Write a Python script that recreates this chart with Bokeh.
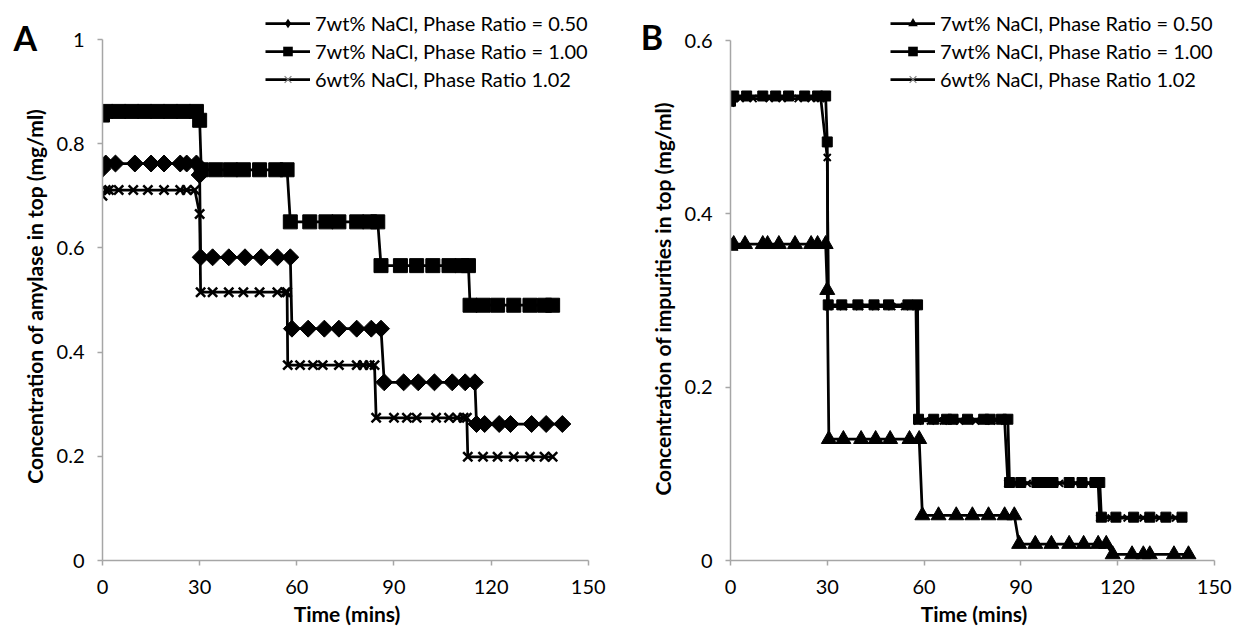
from bokeh.plotting import figure
from bokeh.models import (Range1d, Legend, LegendItem, Label, FixedTicker,
                          NumeralTickFormatter)
from bokeh.layouts import row
from bokeh.embed import file_html
from bokeh.resources import INLINE
import math

# ---------------- data ----------------
time_ticks = [0, 30, 60, 90, 120, 150]
a_ticks = [0, 0.2, 0.4, 0.6, 0.8, 1.0]
b_ticks = [0, 0.2, 0.4, 0.6]

series_labels = ["7wt% NaCl, Phase Ratio = 0.50",
                 "7wt% NaCl, Phase Ratio = 1.00",
                 "6wt% NaCl, Phase Ratio 1.02"]

# Panel A: amylase in top (mg/ml)
a_t_050 = [0, 1, 4, 10, 15, 19, 24, 26, 29, 30,
           30.3, 34, 39, 44, 49, 54, 58,
           58.5, 63.5, 68.5, 73, 78.5, 83, 86,
           87, 93, 97.5, 102.5, 108, 112, 115,
           115.5, 118, 122.5, 126, 132.5, 137, 142]
a_c_050 = [0.752, 0.762, 0.762, 0.762, 0.762, 0.762, 0.762, 0.762, 0.762, 0.740,
           0.582, 0.582, 0.582, 0.582, 0.582, 0.582, 0.582,
           0.445, 0.445, 0.445, 0.445, 0.445, 0.445, 0.445,
           0.342, 0.342, 0.342, 0.342, 0.342, 0.342, 0.342,
           0.262, 0.262, 0.262, 0.262, 0.262, 0.262, 0.262]

a_t_100 = [0, 1, 5, 9, 13, 17, 21, 25, 29, 30,
           30.5, 35, 39.5, 43.5, 48.5, 53.5, 57,
           58, 64, 69, 73, 78.5, 82.5, 85,
           86, 92, 97, 102, 107, 111, 113,
           113.5, 117.5, 122, 127, 132, 136.5, 139]
a_c_100 = [0.855, 0.862, 0.862, 0.862, 0.862, 0.862, 0.862, 0.862, 0.862, 0.845,
           0.750, 0.750, 0.750, 0.750, 0.750, 0.750, 0.750,
           0.650, 0.650, 0.650, 0.650, 0.650, 0.650, 0.650,
           0.566, 0.566, 0.566, 0.566, 0.566, 0.566, 0.566,
           0.490, 0.490, 0.490, 0.490, 0.490, 0.490, 0.490]

a_t_102 = [0, 1, 2, 5, 9.5, 14, 19, 24, 26, 28.5, 30,
           30.3, 34, 39, 43.5, 48.5, 54, 56.5, 57,
           57.2, 61, 65, 68, 73, 78.5, 80.5, 82.5, 84,
           84.5, 90, 94, 97, 103, 107, 109.5, 111.5, 112.5,
           112.8, 117.5, 122, 127, 132, 136.5, 139]
a_c_102 = [0.700, 0.711, 0.711, 0.711, 0.711, 0.711, 0.711, 0.711, 0.711, 0.711, 0.665,
           0.515, 0.515, 0.515, 0.515, 0.515, 0.515, 0.515, 0.515,
           0.375, 0.375, 0.375, 0.375, 0.375, 0.375, 0.375, 0.375, 0.375,
           0.274, 0.274, 0.274, 0.274, 0.274, 0.274, 0.274, 0.274, 0.274,
           0.199, 0.199, 0.199, 0.199, 0.199, 0.199, 0.199]

# Panel B: impurities in top (mg/ml)
b_t_050 = [0, 1, 4.5, 10, 11.5, 15, 20, 25, 27, 29.5, 30,
           30.5, 35, 40.5, 45, 49.5, 55.5, 58.5,
           59.5, 64.5, 70, 75, 80, 85, 88,
           89.5, 94.5, 99.5, 105, 109.5, 114, 116.5,
           118.5, 124.5, 128, 130, 137.5, 142]
b_c_050 = [0.363, 0.365, 0.365, 0.365, 0.365, 0.365, 0.365, 0.365, 0.365, 0.365, 0.312,
           0.140, 0.140, 0.140, 0.140, 0.140, 0.140, 0.140,
           0.052, 0.052, 0.052, 0.052, 0.052, 0.052, 0.052,
           0.019, 0.019, 0.019, 0.019, 0.019, 0.019, 0.019,
           0.007, 0.007, 0.007, 0.007, 0.007, 0.007]

b_t_100 = [0, 1, 5, 10, 14, 18, 23, 27, 29.5, 30,
           30.3, 34.5, 39.5, 44.5, 49, 55, 58,
           58.3, 63, 67, 69, 73.5, 78.5, 80.5, 84, 86,
           86.5, 90, 95, 97.5, 100, 105, 109, 113, 114.5,
           115, 119.5, 125, 130, 135, 140]
b_c_100 = [0.530, 0.536, 0.536, 0.536, 0.536, 0.536, 0.536, 0.536, 0.536, 0.483,
           0.295, 0.295, 0.295, 0.295, 0.295, 0.295, 0.295,
           0.163, 0.163, 0.163, 0.163, 0.163, 0.163, 0.163, 0.163, 0.163,
           0.090, 0.090, 0.090, 0.090, 0.090, 0.090, 0.090, 0.090, 0.090,
           0.050, 0.050, 0.050, 0.050, 0.050, 0.050]

b_t_102 = [0, 1, 3, 7, 12, 16, 21, 25, 28, 30,
           30.3, 35, 40, 45, 50, 54, 57.5,
           58, 62, 66, 71, 76, 81, 85,
           86, 88, 92, 97, 102, 107, 111, 114,
           114.5, 118, 123, 128, 133, 138]
b_c_102 = [0.528, 0.533, 0.533, 0.533, 0.533, 0.533, 0.533, 0.533, 0.533, 0.465,
           0.293, 0.293, 0.293, 0.293, 0.293, 0.293, 0.293,
           0.161, 0.161, 0.161, 0.161, 0.161, 0.161, 0.161,
           0.089, 0.089, 0.089, 0.089, 0.089, 0.089, 0.089, 0.089,
           0.049, 0.049, 0.049, 0.049, 0.049, 0.049]

# ---------------- style ----------------
FONT = "Lato"
GRAY = "#a6a6a6"
LW = 2.75
# two em spaces keep the rotated label centred on the 0..max axis span
PAD = "\u2003\u2003"


def style_axes(p, yticks, ylabel):
    p.grid.visible = False
    p.outline_line_color = None
    xa = p.xaxis[0]
    ya = p.yaxis[0]
    xa.ticker = FixedTicker(ticks=time_ticks)
    ya.ticker = FixedTicker(ticks=yticks)
    ya.formatter = NumeralTickFormatter(format="0.[0]")
    xa.bounds = (0, 150)
    ya.bounds = (0, yticks[-1])
    for ax in (xa, ya):
        ax.axis_line_color = GRAY
        ax.axis_line_width = 1.5
        ax.major_tick_line_color = GRAY
        ax.major_tick_line_width = 1.5
        ax.major_tick_out = 5
        ax.major_tick_in = 0
        ax.minor_tick_line_color = None
        ax.major_label_text_font = FONT
        ax.major_label_text_font_size = "20px"
        ax.major_label_text_color = "black"
        ax.axis_label_text_font = FONT
        ax.axis_label_text_font_style = "bold"
        ax.axis_label_text_font_size = "21px"
        ax.axis_label_text_color = "black"
    xa.major_label_standoff = 14
    ya.major_label_standoff = 13
    xa.axis_label = "Time (mins)"
    xa.axis_label_standoff = 4
    ya.axis_label = ylabel + PAD
    ya.axis_label_standoff = 7


def add_series(p, t, c, marker, size, lw_marker=1.0, angle=0.0):
    lr = p.line(t, c, line_color="black", line_width=LW, line_join="round")
    if marker == "x":
        p.scatter(t, c, marker=marker, size=size, line_color="black",
                  line_width=lw_marker)
    else:
        p.scatter(t, c, marker=marker, size=size, fill_color="black",
                  line_color="black", line_width=lw_marker, angle=angle)
    return lr


def legend_proxy(p, t, c, marker, color="black", lw=1.0):
    # zero-size copy of a series point, used only for the legend glyph
    if marker == "x":
        return p.scatter(t[:1], c[:1], marker="x", size=0,
                         line_color=color, line_width=lw)
    return p.scatter(t[:1], c[:1], marker=marker, size=0,
                     fill_color=color, line_color=None)


def add_legend(p, items, x, y):
    leg = Legend(items=items, location=(x, y), padding=0, margin=0,
                 border_line_color=None, background_fill_alpha=0,
                 glyph_width=45, glyph_height=24, label_height=24,
                 spacing=4, label_standoff=5,
                 label_text_font=FONT, label_text_font_size="20px",
                 label_text_color="black")
    p.add_layout(leg)


def add_letter(p, letter, x, y, side):
    p.add_layout(Label(x=x, y=y, text=letter,
                       text_font=FONT, text_font_style="bold",
                       text_font_size="34px", text_baseline="middle",
                       text_align="left", text_color="black"), side)


# ---------------- Panel A ----------------
pA = figure(frame_width=489, frame_height=560,
            x_range=Range1d(0, 151), y_range=Range1d(0, 1.0749),
            min_border_left=102, min_border_right=29, min_border_top=0,
            min_border_bottom=68, title=None,
            output_backend="svg", toolbar_location=None)
style_axes(pA, a_ticks, "Concentration of amylase in top (mg/ml)")

l1 = add_series(pA, a_t_050, a_c_050, "square", 12, angle=math.pi / 4)
l2 = add_series(pA, a_t_100, a_c_100, "square", 14)
l3 = add_series(pA, a_t_102, a_c_102, "x", 13, lw_marker=2.5)
m1 = legend_proxy(pA, a_t_050, a_c_050, "diamond")
m2 = legend_proxy(pA, a_t_100, a_c_100, "square")
m3 = legend_proxy(pA, a_t_102, a_c_102, "x", color="#808080", lw=1.2)
add_legend(pA, [LegendItem(label=series_labels[0], renderers=[l1, m1]),
                LegendItem(label=series_labels[1], renderers=[l2, m2]),
                LegendItem(label=series_labels[2], renderers=[l3, m3])],
           163, 469)
add_letter(pA, "A", -27.5, 1.004, "right")

# ---------------- Panel B ----------------
pB = figure(frame_width=487, frame_height=560,
            x_range=Range1d(0, 151), y_range=Range1d(0, 0.6462),
            min_border_left=110, min_border_right=16, min_border_top=0,
            min_border_bottom=68, title=None,
            output_backend="svg", toolbar_location=None)
style_axes(pB, b_ticks, "Concentration of impurities in top  (mg/ml)")

k1 = add_series(pB, b_t_050, b_c_050, "triangle", 15)
k2 = add_series(pB, b_t_100, b_c_100, "square", 10)
k3 = add_series(pB, b_t_102, b_c_102, "x", 10, lw_marker=2.0)
n1 = legend_proxy(pB, b_t_050, b_c_050, "triangle")
n2 = legend_proxy(pB, b_t_100, b_c_100, "square")
n3 = legend_proxy(pB, b_t_102, b_c_102, "x", color="#808080", lw=1.2)
add_legend(pB, [LegendItem(label=series_labels[0], renderers=[k1, n1]),
                LegendItem(label=series_labels[1], renderers=[k2, n2]),
                LegendItem(label=series_labels[2], renderers=[k3, n3])],
           160, 469)
add_letter(pB, "B", -27.8, 0.6046, "left")

layout = row(pA, pB)
open("out.html", "w").write(file_html(layout, INLINE))
